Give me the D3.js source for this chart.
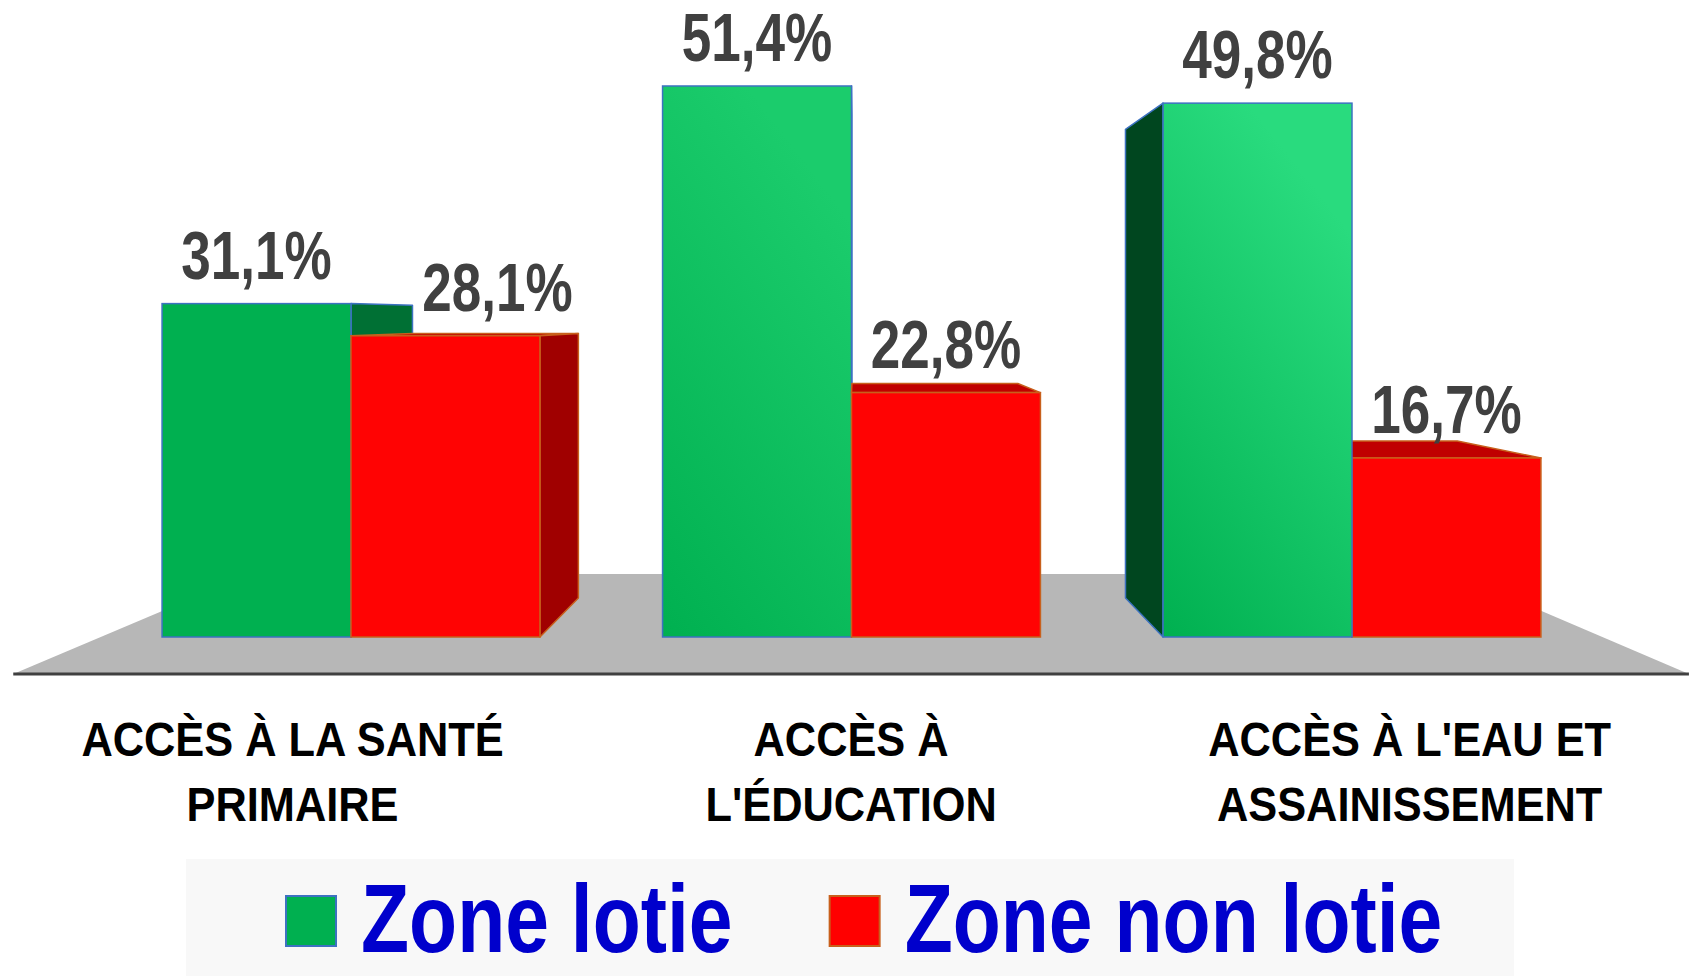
<!DOCTYPE html>
<html>
<head>
<meta charset="utf-8">
<script src="https://cdn.jsdelivr.net/npm/d3@7"></script>
<style>
  body { margin: 0; background: #fff; }
</style>
</head>
<body>
<div id="container"></div>
<script>
/* DATA */
const categories = [
  ["ACCÈS À LA SANTÉ", "PRIMAIRE"],
  ["ACCÈS À", "L'ÉDUCATION"],
  ["ACCÈS À L'EAU ET", "ASSAINISSEMENT"]
]
const series = ["Zone lotie", "Zone non lotie"]
const zoneLotie = [31.1, 51.4, 49.8]
const zoneNonLotie = [28.1, 22.8, 16.7]

/* CONSTANTS AND GLOBALS */
const width = 1692, height = 976
// no narrow font installed -> Arial-metric bold squeezed horizontally
const font = "'Liberation Sans', Arial, sans-serif"

// fake 3D: vanishing point + depth scale factors (front plane = 1)
const vx = 855, vy = 318
const depthBack = 0.878      // back face of the bars
const floorFront = 1.116, floorBack = 0.8025

const colors = {
  "Zone lotie": { front: "#00b050", left: "#00461f", right: "#007034", top: "#008a3e", stroke: "#3d72c1" },
  "Zone non lotie": { front: "#ff0303", left: "#a00000", right: "#a00000", top: "#c00000", stroke: "#c8601c" }
}
// top colour of the green gradient per category (bottom is always #00b050)
const greenTops = ["#00b050", "#1bcc6c", "#29db7e"]

const fmt = d3.formatLocale({ decimal: ",", thousands: " ", grouping: [3], currency: ["", ""] }).format(".1f")

const proj = (x, y, s) => [vx + s * (x - vx), vy + s * (y - vy)]

/* SCALES */
const xScale = d3.scaleBand()
  .domain(d3.range(categories.length))
  .range([100.75, 1602.25])
  .paddingInner(0.245)
  .paddingOuter(0.1225)

const xInner = d3.scaleBand()
  .domain(series)
  .range([0, xScale.bandwidth()])

const yScale = d3.scaleLinear()
  .domain([0, 60])
  .range([637, 637 - 643.2])

const bars = []
categories.forEach((c, i) => {
  bars.push({ cat: i, s: series[0], v: zoneLotie[i] })
  bars.push({ cat: i, s: series[1], v: zoneNonLotie[i] })
})
bars.forEach(d => {
  d.x0 = xScale(d.cat) + xInner(d.s)
  d.x1 = d.x0 + xInner.bandwidth()
  d.yt = yScale(d.v)
  d.yb = yScale(0)
})

/* SVG */
const svg = d3.select("#container")
  .append("svg")
  .attr("width", width)
  .attr("height", height)

const defs = svg.append("defs")
categories.forEach((c, i) => {
  const g = defs.append("linearGradient")
    .attr("id", "green" + i)
    .attr("x1", 0).attr("y1", 1).attr("x2", 0.45).attr("y2", 0)
  g.append("stop").attr("offset", 0).attr("stop-color", "#00b050")
  g.append("stop").attr("offset", 1).attr("stop-color", greenTops[i])
})

const line = d3.line()

// FLOOR
const [fx0, fx1] = xScale.range()
const fy = yScale(0)
svg.append("path")
  .attr("d", line([proj(fx0, fy, floorFront), proj(fx1, fy, floorFront), proj(fx1, fy, floorBack), proj(fx0, fy, floorBack)]) + "Z")
  .attr("fill", "#b7b7b7")

svg.append("path")
  .attr("d", line([proj(fx0, fy, floorFront), proj(fx1, fy, floorFront)]))
  .attr("stroke", "#404040")
  .attr("stroke-width", 3)

// BARS (farthest from the vanishing point drawn first)
const order = bars.slice().sort((a, b) => Math.abs((b.x0 + b.x1) / 2 - vx) - Math.abs((a.x0 + a.x1) / 2 - vx))

order.forEach(d => {
  const col = colors[d.s]
  const g = svg.append("g")
  const faces = []
  if (d.yt > vy) faces.push({ pts: [[d.x0, d.yt], [d.x1, d.yt]], fill: col.top })
  if (d.x0 > vx) faces.push({ pts: [[d.x0, d.yt], [d.x0, d.yb]], fill: col.left })
  if (d.x1 < vx) faces.push({ pts: [[d.x1, d.yt], [d.x1, d.yb]], fill: col.right })

  faces.forEach(f => {
    const [a, b] = f.pts
    const poly = [proj(a[0], a[1], 1), proj(b[0], b[1], 1), proj(b[0], b[1], depthBack), proj(a[0], a[1], depthBack)]
    g.append("path")
      .attr("d", line(poly) + "Z")
      .attr("fill", f.fill)
      .attr("stroke", col.stroke)
      .attr("stroke-width", 1.5)
      .attr("stroke-linejoin", "round")
  })

  g.append("rect")
    .attr("x", d.x0)
    .attr("y", d.yt)
    .attr("width", d.x1 - d.x0)
    .attr("height", d.yb - d.yt)
    .attr("fill", d.s === series[0] ? `url(#green${d.cat})` : col.front)
    .attr("stroke", col.stroke)
    .attr("stroke-width", 1.5)
})

// VALUE LABELS
svg.selectAll(".value")
  .data(bars)
  .join("text")
  .attr("class", "value")
  .attr("transform", d => {
    const cx = (d.x0 + d.x1) / 2 + (d.cat === 0 && d.s === series[1] ? 52 : 0)
    return `translate(${cx},${d.yt - 25}) scale(0.78,1)`
  })
  .attr("text-anchor", "middle")
  .attr("font-family", font)
  .attr("font-weight", "bold")
  .attr("font-size", 68)
  .attr("fill", "#404040")
  .text(d => fmt(d.v) + "%")

// CATEGORY LABELS (projected onto the front edge of the floor)
svg.selectAll(".cat")
  .data(categories)
  .join("text")
  .attr("class", "cat")
  .attr("transform", (lines, i) => {
    const cx = proj(xScale(i) + xScale.bandwidth() / 2, fy, floorFront)[0]
    return `translate(${cx},756) scale(0.885,1)`
  })
  .attr("text-anchor", "middle")
  .attr("font-family", font)
  .attr("font-weight", "bold")
  .attr("font-size", 49)
  .attr("fill", "#000")
  .each(function (lines) {
    d3.select(this).selectAll("tspan")
      .data(lines)
      .join("tspan")
      .attr("x", 0)
      .attr("y", (l, j) => j * 65)
      .text(l => l)
  })

// LEGEND
svg.append("rect")
  .attr("x", 186).attr("y", 859)
  .attr("width", 1328).attr("height", 117)
  .attr("fill", "#f8f8f8")

const legendSx = 0.82
let lx = 286
series.forEach(s => {
  svg.append("rect")
    .attr("x", lx).attr("y", 896)
    .attr("width", 50).attr("height", 50)
    .attr("fill", s === series[0] ? "#00b050" : "#ff0000")
    .attr("stroke", colors[s].stroke)
    .attr("stroke-width", 2)
  const t = svg.append("text")
    .attr("transform", `translate(${lx + 75},952) scale(${legendSx},1)`)
    .attr("font-family", font)
    .attr("font-weight", "bold")
    .attr("font-size", 96)
    .attr("fill", "#0000cc")
    .text(s)
  lx = lx + 75 + t.node().getComputedTextLength() * legendSx + 97
})
</script>
</body>
</html>
